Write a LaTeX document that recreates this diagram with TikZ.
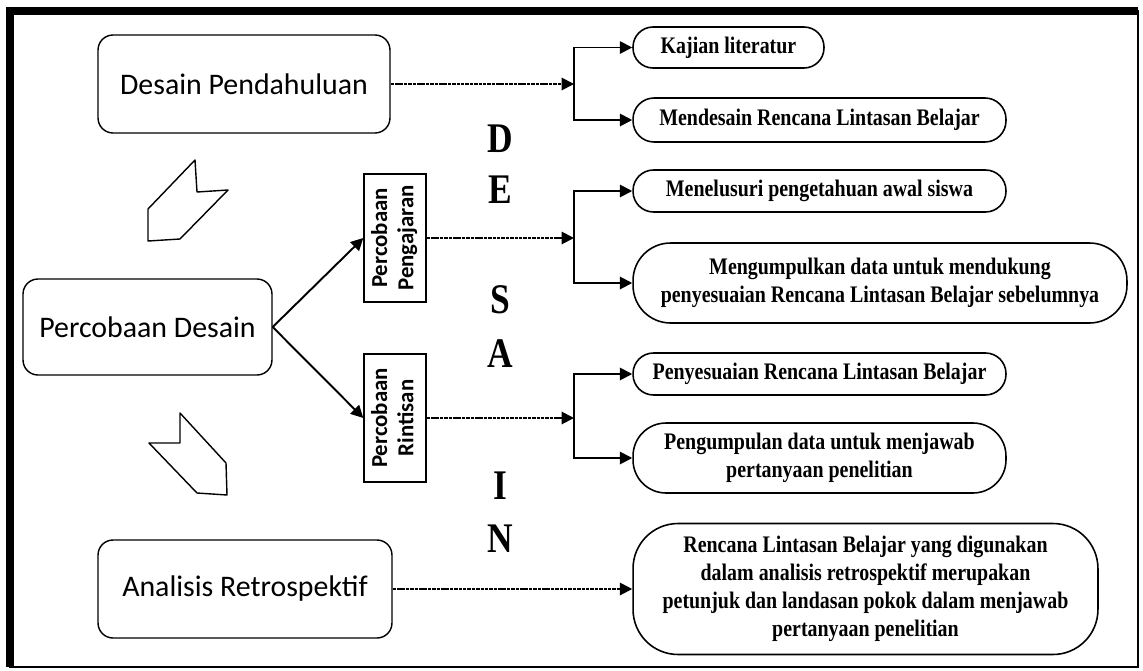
\documentclass[tikz,border=0pt]{standalone}
\usepackage{fontspec}
\usepackage{graphicx}
\usepackage{tikz}
\usetikzlibrary{arrows.meta}
\newfontfamily\carlito{Carlito}
\newfontfamily\goalserif[FakeStretch=0.84]{Liberation Serif}
\newcommand\phasefont{\carlito\fontsize{17}{20}\selectfont}
\newcommand\trialfont{\carlito\bfseries\fontsize{13}{15}\selectfont}
\newcommand\goalfont{\goalserif\bfseries\fontsize{13.5}{16}\selectfont}
\newcommand\letterfont{\goalserif\bfseries\fontsize{24}{26}\selectfont}
\tikzset{
  phase/.style={draw, rounded corners=0.3cm, line width=0.8pt, inner sep=0pt, font=\phasefont},
  trial/.style={draw, line width=0.8pt, inner sep=0pt, minimum width=1.24cm, minimum height=2.56cm, font=\trialfont},
  goal/.style={draw, line width=0.9pt, inner sep=0pt, align=center, font=\goalfont},
  letter/.style={inner sep=0pt, font=\letterfont},
  arr/.style={-{Triangle[length=7pt,width=7pt]}, line width=1.1pt},
  dotline/.style={arr, dash pattern=on 2pt off 0.5pt},
  chevron/.style={draw, line width=0.8pt, line join=round}
}

\begin{document}
\begin{tikzpicture}[x=0.02cm,y=-0.02cm]
  \useasboundingbox (0,0) rectangle (1143,670);
  \fill[white] (0,0) rectangle (1143,670);
  % frame
  \draw[line width=0.8pt] (10,11) rectangle (1138,667);
  \draw[line width=4.3pt] (10,667) -- (10,11) -- (1138,11);

  % phases
  \node[phase, minimum width=5.84cm, minimum height=1.96cm] (pendahuluan) at (244,84) {Desain Pendahuluan};
  \node[phase, minimum width=4.98cm, minimum height=1.92cm] (percobaan) at (147.5,327) {Percobaan Desain};
  \node[phase, minimum width=5.88cm, minimum height=1.96cm] (analisis) at (245,589) {Analisis Retrospektif};

  \node[trial] (pengajaran) at (395,238) {\rotatebox{90}{\begin{tabular}{@{}c@{}}Percobaan\\Pengajaran\end{tabular}}};
  \node[trial] (rintisan) at (395,418) {\rotatebox{90}{\begin{tabular}{@{}c@{}}Percobaan\\Rintisan\end{tabular}}};

  % DESAIN
  \node[letter] (ld) at (500,139) {D};
  \node[letter] (le) at (500,190) {E};
  \node[letter] (ls) at (500,300) {S};
  \node[letter] (la) at (500,354) {A};
  \node[letter] (li) at (500,486) {I};
  \node[letter] (ln) at (500,539) {N};

  % goals
  \node[goal, rounded corners=0.4cm, minimum width=3.82cm, minimum height=0.82cm] (kajian) at (728.5,47.5) {Kajian literatur};
  \node[goal, rounded corners=0.42cm, minimum width=7.46cm, minimum height=0.88cm] (mendesain) at (819.5,120) {Mendesain Rencana Lintasan Belajar};
  \node[goal, rounded corners=0.41cm, minimum width=7.46cm, minimum height=0.84cm] (menelusuri) at (819.5,191) {Menelusuri pengetahuan awal siswa};
  \node[goal, rounded corners=0.75cm, minimum width=9.88cm, minimum height=1.6cm] (mengumpulkan) at (880,283) {Mengumpulkan data untuk mendukung\\penyesuaian Rencana Lintasan Belajar sebelumnya};
  \node[goal, rounded corners=0.41cm, minimum width=7.46cm, minimum height=0.84cm] (penyesuaian) at (819.5,374) {Penyesuaian Rencana Lintasan Belajar};
  \node[goal, rounded corners=0.66cm, minimum width=7.46cm, minimum height=1.4cm] (pengumpulan) at (819.5,458) {Pengumpulan data untuk menjawab\\pertanyaan penelitian};
  \node[goal, rounded corners=0.9cm, minimum width=9.3cm, minimum height=2.62cm] (rencana) at (865.5,589) {Rencana Lintasan Belajar yang digunakan\\dalam analisis retrospektif merupakan\\petunjuk dan landasan pokok dalam menjawab\\pertanyaan penelitian};

  % chevrons
  \draw[chevron] (195,160) -- (197,192) -- (228,190) -- (180,239) -- (148,241) -- (148,209) -- cycle;
  \draw[chevron] (180,413) -- (226,463) -- (227,495) -- (197,493) -- (149,443) -- (180,443) -- cycle;

  % connectors
  \coordinate (b1) at (574,84);
  \coordinate (b2) at (574,238);
  \coordinate (b3) at (574,418);
  \draw[arr] (percobaan.east) -- (pengajaran.west);
  \draw[arr] (percobaan.east) -- (rintisan.west);
  \draw[dotline] (pendahuluan) -- (b1);
  \draw[dotline] (pengajaran) -- (b2);
  \draw[dotline] (rintisan) -- (b3);
  \draw[dotline] (analisis) -- (rencana);
  \draw[arr] (b1) |- (kajian);
  \draw[arr] (b1) |- (mendesain);
  \draw[arr] (b2) |- (menelusuri);
  \draw[arr] (b2) |- (mengumpulkan);
  \draw[arr] (b3) |- (penyesuaian);
  \draw[arr] (b3) |- (pengumpulan);
\end{tikzpicture}
\end{document}
